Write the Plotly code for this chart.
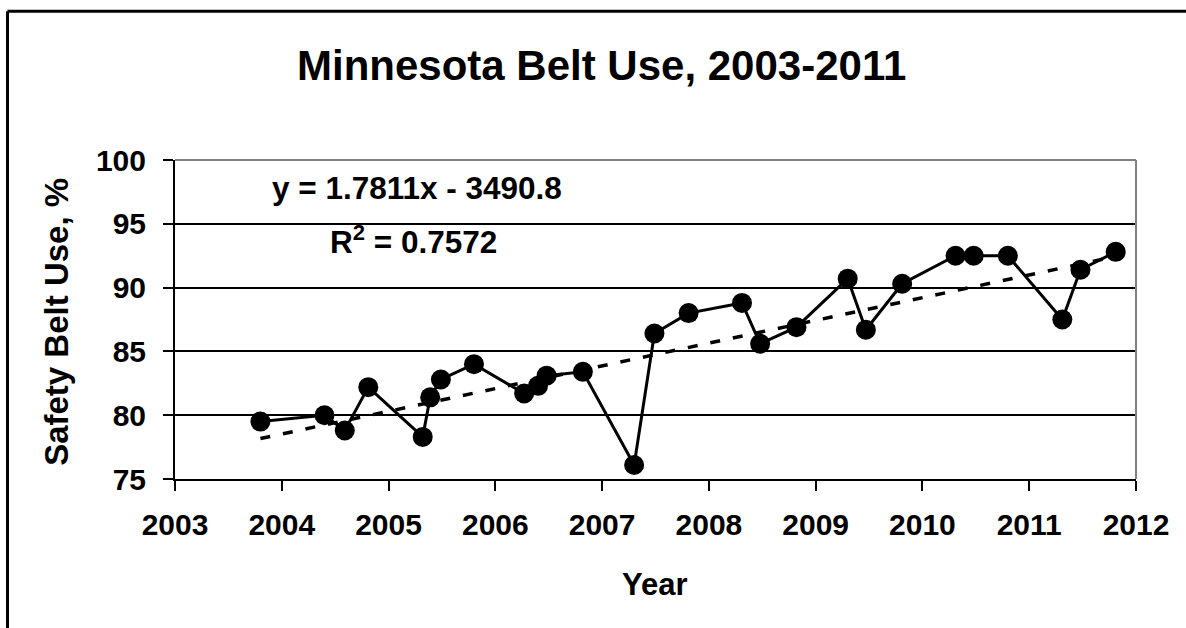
import plotly.graph_objects as go

# Data
years = [2003.80, 2004.40, 2004.59, 2004.81, 2005.32, 2005.39, 2005.49, 2005.80,
         2006.27, 2006.40, 2006.48, 2006.82, 2007.30, 2007.49, 2007.81, 2008.31,
         2008.48, 2008.82, 2009.30, 2009.47, 2009.81, 2010.31, 2010.48, 2010.80,
         2011.31, 2011.48, 2011.81]
belt_use = [79.5, 80.0, 78.8, 82.2, 78.3, 81.4, 82.8, 84.0,
            81.7, 82.3, 83.1, 83.4, 76.1, 86.4, 88.0, 88.8,
            85.6, 86.9, 90.7, 86.7, 90.3, 92.5, 92.5, 92.5,
            87.5, 91.4, 92.8]
trend_slope = 1.7811
trend_intercept = -3490.8
r_squared = 0.7572
x_ticks = [2003, 2004, 2005, 2006, 2007, 2008, 2009, 2010, 2011, 2012]
y_ticks = [75, 80, 85, 90, 95, 100]

FONT = "Liberation Sans, Arial, sans-serif"

trend_x = [min(years), max(years)]
trend_y = [trend_slope * x + trend_intercept for x in trend_x]

fig = go.Figure()
fig.add_trace(go.Scatter(x=trend_x, y=trend_y, mode="lines",
                         line=dict(color="black", width=3.5, dash="10px,13px"),
                         hoverinfo="skip", showlegend=False))
fig.add_trace(go.Scatter(x=years, y=belt_use, mode="lines+markers",
                         line=dict(color="black", width=3),
                         marker=dict(color="black", size=20),
                         showlegend=False))

W, H = 1186, 628
L, R, T, B = 175, 1136, 160, 479.3


def px(xp):
    return (xp - L) / (R - L)


def py(yp):
    return (B - yp) / (B - T)


fig.update_layout(
    width=W, height=H,
    margin=dict(l=L, r=W - R, t=T, b=H - B),
    paper_bgcolor="white", plot_bgcolor="white",
    font=dict(family=FONT, color="black"),
    showlegend=False,
    xaxis=dict(range=[x_ticks[0], x_ticks[-1]], tickvals=x_ticks,
               ticktext=[f"<b>{t}</b>" for t in x_ticks],
               tickfont=dict(size=30, family=FONT), showgrid=False,
               showline=True, linecolor="black", linewidth=2,
               ticks="outside", ticklen=10, tickwidth=2, tickcolor="black",
               ticklabelstandoff=8, zeroline=False, automargin=False,
               mirror=False),
    yaxis=dict(range=[y_ticks[0], y_ticks[-1]], tickvals=y_ticks,
               ticktext=[f"<b>{t}</b>" for t in y_ticks],
               tickfont=dict(size=30, family=FONT), showgrid=True,
               gridcolor="black", gridwidth=1.5,
               showline=True, linecolor="black", linewidth=2,
               ticks="outside", ticklen=10, tickwidth=2, tickcolor="black",
               ticklabelstandoff=11, zeroline=False, automargin=False),
)

shapes = [
    # gray plot-area border (top and right)
    dict(type="line", xref="paper", yref="paper", x0=0, x1=1, y0=1, y1=1,
         line=dict(color="#808080", width=2)),
    dict(type="line", xref="paper", yref="paper", x0=1, x1=1, y0=0, y1=1,
         line=dict(color="#808080", width=2)),
    # outer chart frame (left and top)
    dict(type="line", xref="paper", yref="paper", x0=px(7.5), x1=px(7.5),
         y0=py(11), y1=py(640), line=dict(color="black", width=3)),
    dict(type="line", xref="paper", yref="paper", x0=px(7.5), x1=px(1200),
         y0=py(11), y1=py(11), line=dict(color="black", width=3)),
]
fig.update_layout(shapes=shapes)

annotations = [
    dict(text="<b>Minnesota Belt Use, 2003-2011</b>", x=px(601), y=py(65),
         font=dict(size=42, family=FONT)),
    dict(text="<b>Safety Belt Use, %</b>", x=px(57), y=py(322), textangle=-90,
         font=dict(size=33, family=FONT)),
    dict(text="<b>Year</b>", x=px(655), y=py(585),
         font=dict(size=31, family=FONT)),
    dict(text=f"<b>y = {trend_slope}x - {abs(trend_intercept)}</b>",
         x=px(417), y=py(188), font=dict(size=31.5, family=FONT)),
    dict(text=f"<b>R<sup>2</sup> = {r_squared}</b>",
         x=px(413), y=py(240), font=dict(size=31.5, family=FONT)),
]
for a in annotations:
    a.update(xref="paper", yref="paper", showarrow=False,
             xanchor="center", yanchor="middle")
fig.update_layout(annotations=annotations)

fig.write_html("out.html",
               config={"displayModeBar": False},
               post_script="document.body.style.margin='0';"
                           "document.body.style.overflow='hidden';")
